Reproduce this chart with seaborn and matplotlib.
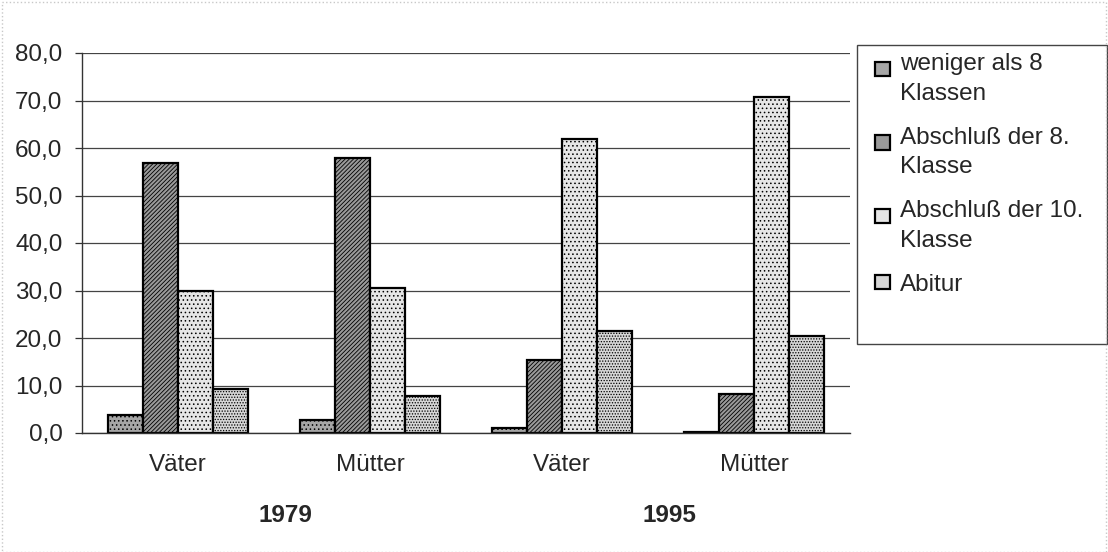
import pandas as pd
import matplotlib.pyplot as plt
import matplotlib.patches as mpatches
import matplotlib.transforms as mtransforms
from matplotlib.legend_handler import HandlerPatch
import seaborn as sns

sns.set_style("white")
plt.rcParams['font.family'] = ['Liberation Sans', 'DejaVu Sans']
plt.rcParams['hatch.linewidth'] = 0.6

# Daten
kategorien = ["Väter", "Mütter", "Väter", "Mütter"]
jahre = ["1979", "1995"]
abschluesse = ["weniger als 8\nKlassen", "Abschluß der 8.\nKlasse",
               "Abschluß der 10.\nKlasse", "Abitur"]
werte_weniger8 = [3.8, 2.7, 1.0, 0.3]
werte_klasse8 = [56.9, 58.0, 15.4, 8.2]
werte_klasse10 = [29.9, 30.6, 61.8, 70.8]
werte_abitur = [9.2, 7.8, 21.4, 20.5]
y_ticks = [0, 10, 20, 30, 40, 50, 60, 70, 80]

# long format, unique keys per category
keys = [f"{k} {j}" for j in jahre for k in ["Väter", "Mütter"]]
rows = []
for name, werte in zip(abschluesse, [werte_weniger8, werte_klasse8, werte_klasse10, werte_abitur]):
    for key, w in zip(keys, werte):
        rows.append({"kat": key, "abschluss": name, "wert": w})
df = pd.DataFrame(rows)

farben = ["#a6a6a6", "#9a9a9a", "#e6e6e6", "#d6d6d6"]
hatches = ["....", "////////", "....", "......"]
hatch_farben = ["#666666", "#555555", "#b5b5b5", "#9a9a9a"]

fig, ax = plt.subplots(figsize=(11.08, 5.52), dpi=100)
ax.set_position([82 / 1108, 1 - 433 / 552, 768 / 1108, 380 / 552])

sns.barplot(data=df, x="kat", y="wert", hue="abschluss", order=keys,
            hue_order=abschluesse, palette=farben, width=0.73, gap=0,
            edgecolor="black", linewidth=1.6, ax=ax)

for cont, h, hc in zip(ax.containers, hatches, hatch_farben):
    for bar in cont:
        bar.set_hatch(h)
        if hasattr(bar, "set_hatchcolor"):
            bar.set_hatchcolor(hc)

ax.set_xlim(-0.5, 3.5)
ax.set_ylim(0, 80)
ax.set_yticks(y_ticks)
ax.set_yticklabels([f"{t:.1f}".replace(".", ",") for t in y_ticks])
ax.set_xticks(range(4))
ax.set_xticklabels(kategorien)
ax.set_xticks([0.5, 1.5, 2.5, 3.5], minor=True)
ax.tick_params(axis="x", which="major", length=0, pad=15, labelsize=17.5)
ax.tick_params(axis="x", which="minor", length=5, width=0.9, color="#333333", direction="out")
ax.tick_params(axis="y", length=5, width=0.9, color="#333333", pad=9, labelsize=17.5, left=True)
ax.set_xlabel("")
ax.set_ylabel("")
ax.grid(axis="y", color="#444444", linewidth=0.9)
ax.set_axisbelow(True)
for s in ["top", "right"]:
    ax.spines[s].set_visible(False)
for s in ["left", "bottom"]:
    ax.spines[s].set_color("#333333")
    ax.spines[s].set_linewidth(1.0)

# Jahre unter den Gruppen
trans = mtransforms.blended_transform_factory(ax.transData, ax.transAxes)
for x, j in zip([0.56, 2.56], jahre):
    ax.text(x, -0.216, j, transform=trans, ha="center", va="center",
            fontsize=17.5, fontweight="bold")


# Legende: Kästchen bei zweizeiligen Einträgen an der ersten Zeile
def kaestchen_oben(legend, orig_handle, xdescent, ydescent, width, height, fontsize):
    return mpatches.Rectangle((-xdescent, -ydescent + 0.4 * fontsize), width, height)


handles, labels = ax.get_legend_handles_labels()
ax.get_legend().remove()
hmap = {h: HandlerPatch(patch_func=kaestchen_oben) for h, l in zip(handles, labels) if "\n" in l}
leg = fig.legend(handles, labels, loc="upper left", handler_map=hmap,
                 bbox_to_anchor=(875 / 1108, 1 - 53 / 552), bbox_transform=fig.transFigure,
                 frameon=False, fontsize=17.5, handlelength=0.62, handleheight=0.55,
                 handletextpad=0.4, labelspacing=0.9, borderpad=0, borderaxespad=0)
for t in leg.get_texts():
    t.set_linespacing(1.45)
fig.add_artist(mpatches.Rectangle((857 / 1108, 1 - 344 / 552), 250 / 1108, 299 / 552,
                                  transform=fig.transFigure, fill=False,
                                  edgecolor="#444444", linewidth=1.0))
fig.add_artist(mpatches.Rectangle((0.002, 0), 0.996, 0.996, transform=fig.transFigure,
                                  fill=False, edgecolor="#c8c8c8", linewidth=1.0,
                                  linestyle=":"))

plt.savefig("out.png", dpi=100)
plt.close()
